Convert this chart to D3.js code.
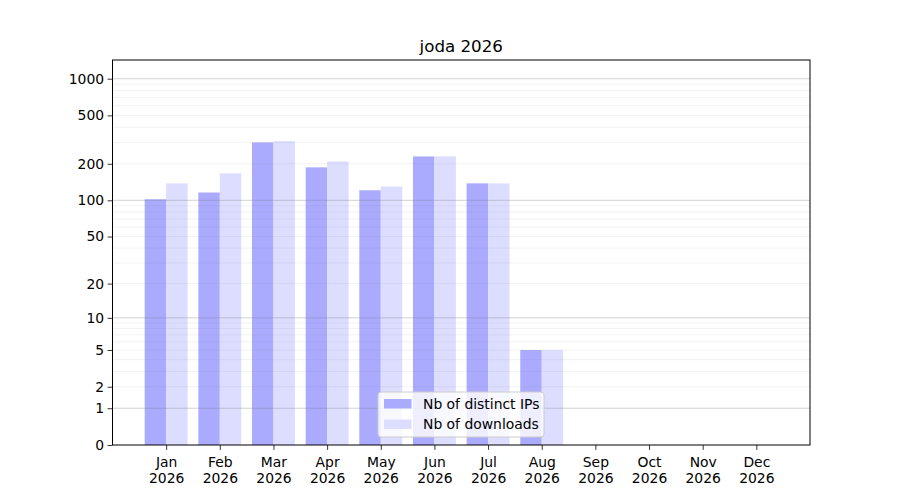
<!DOCTYPE html>
<html><head><meta charset="utf-8">
<script src="https://cdn.jsdelivr.net/npm/d3@7"></script>
<style>body{margin:0;background:#fff}svg, svg text{font-family:"DejaVu Sans",sans-serif}</style>
</head><body><svg id="c" width="900" height="500"></svg>
<script>
const months = ["Jan","Feb","Mar","Apr","May","Jun","Jul","Aug","Sep","Oct","Nov","Dec"];
const year = "2026";
const distinctIPs = [102, 116, 300, 187, 121, 230, 138, 5, 0, 0, 0, 0];
const downloads = [138, 167, 307, 209, 130, 230, 138, 5, 0, 0, 0, 0];
const yTicks = [0, 1, 2, 5, 10, 20, 50, 100, 200, 500, 1000];
const majorGrid = [1, 10, 100, 1000];
const minorGrid = [2,3,4,5,6,7,8,9,20,30,40,50,60,70,80,90,200,300,400,500,600,700,800,900];
const title = "joda 2026";
const seriesNames = ["Nb of distinct IPs", "Nb of downloads"];
const colors = ["#aaaaff", "#ddddff"];

const FS = 13.9;
const svg = d3.select("#c");
const L = 112.5, R = 810, T = 60, B = 445;
const x = d3.scaleLinear().domain([-1, 12]).range([L, R]);
const y = d3.scaleSymlog().constant(1).domain([0, 1423]).range([B, T]);
const bw = 0.4;

const g = svg.append("g");
g.selectAll("rect.ip").data(distinctIPs).join("rect")
  .attr("x", (d,i) => x(i - bw)).attr("width", (d,i) => x(i) - x(i - bw))
  .attr("y", d => y(d)).attr("height", d => B - y(d)).attr("fill", colors[0]);
g.selectAll("rect.dl").data(downloads).join("rect")
  .attr("x", (d,i) => x(i)).attr("width", (d,i) => x(i + bw) - x(i))
  .attr("y", d => y(d)).attr("height", d => B - y(d)).attr("fill", colors[1]);

g.selectAll("line.minor").data(minorGrid).join("line")
  .attr("x1", L).attr("x2", R).attr("y1", d => y(d)).attr("y2", d => y(d))
  .attr("stroke", "#808080").attr("stroke-opacity", 0.13).attr("stroke-width", 0.8);
g.selectAll("line.major").data(majorGrid).join("line")
  .attr("x1", L).attr("x2", R).attr("y1", d => y(d)).attr("y2", d => y(d))
  .attr("stroke", "#808080").attr("stroke-opacity", 0.45).attr("stroke-width", 0.8);

const yAxis = d3.axisLeft(y).tickValues(yTicks).tickFormat(d3.format("d")).tickSize(4.9).tickPadding(3.5);
const ya = svg.append("g").attr("transform", `translate(${L},0)`).call(yAxis)
  .attr("font-family", "DejaVu Sans").attr("font-size", FS);
ya.select(".domain").remove();
ya.selectAll("text").attr("fill", "#000");
ya.selectAll("line").attr("stroke", "#000").attr("stroke-width", 0.8);

const xAxis = d3.axisBottom(x).tickValues(d3.range(12)).tickFormat(() => "").tickSize(4.9);
const xa = svg.append("g").attr("transform", `translate(0,${B})`).call(xAxis)
  .attr("font-family", "DejaVu Sans").attr("font-size", FS);
xa.select(".domain").remove();
xa.selectAll("line").attr("stroke", "#000").attr("stroke-width", 0.8);
xa.selectAll(".tick").each(function(d) {
  const t = d3.select(this).append("text").attr("fill", "#000").attr("text-anchor", "middle");
  t.append("tspan").attr("x", 0).attr("y", 22).text(months[d]);
  t.append("tspan").attr("x", 0).attr("y", 37.5).text(year);
});

svg.append("rect").attr("x", L).attr("y", T).attr("width", R - L).attr("height", B - T)
  .attr("fill", "none").attr("stroke", "#000").attr("stroke-width", 1);

svg.append("text").attr("x", (L + R) / 2).attr("y", 52).attr("text-anchor", "middle")
  .attr("font-size", 16.7).attr("fill", "#000").text(title);

const lg = svg.append("g").attr("transform", "translate(378,392)").attr("font-size", FS);
lg.append("rect").attr("width", 166).attr("height", 45).attr("rx", 3)
  .attr("fill", "#fff").attr("fill-opacity", 0.8).attr("stroke", "#cccccc").attr("stroke-width", 1);
seriesNames.forEach((n, i) => {
  lg.append("rect").attr("x", 6).attr("y", 7 + i * 20.5).attr("width", 27.5).attr("height", 9.5).attr("fill", colors[i]);
  lg.append("text").attr("x", 45).attr("y", 16.8 + i * 20.5).attr("fill", "#000").text(n);
});
</script></body></html>
